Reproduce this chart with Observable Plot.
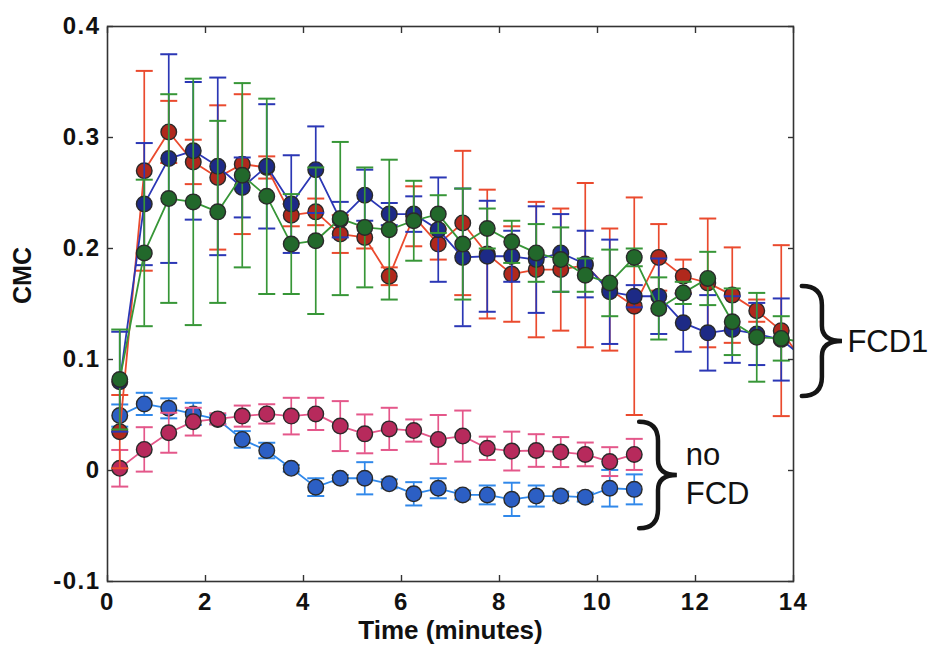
<!DOCTYPE html>
<html>
<head>
<meta charset="utf-8">
<script src="https://cdn.jsdelivr.net/npm/d3@7"></script>
<script src="https://cdn.jsdelivr.net/npm/@observablehq/plot@0.6"></script>
<style>
  html, body { margin: 0; padding: 0; background: #fff; }
  #chart { width: 929px; height: 650px; }
  svg { font-family: "Liberation Sans", Arial, Helvetica, sans-serif; }
  .ticklab text { letter-spacing: 1.5px; }
</style>
</head>
<body>
<div id="chart"></div>
<script>
// ---- Data ----
const xTicks = [0, 2, 4, 6, 8, 10, 12, 14];
const yTicks = [-0.1, 0, 0.1, 0.2, 0.3, 0.4];
const yTickLabels = ["-0.1", "0", "0.1", "0.2", "0.3", "0.4"];

// FCD1 time points (minutes); last one lies just past the axis and is clipped
const fcdTime = [0.25, 0.75, 1.25, 1.75, 2.25, 2.75, 3.25, 3.75, 4.25, 4.75, 5.25, 5.75, 6.25, 6.75,
  7.25, 7.75, 8.25, 8.75, 9.25, 9.75, 10.25, 10.75, 11.25, 11.75, 12.25, 12.75, 13.25, 13.75, 14.25];

const fcdRed = [0.035, 0.270, 0.305, 0.278, 0.264, 0.276, 0.273, 0.230, 0.233, 0.213, 0.210, 0.175, 0.229, 0.204,
  0.223, 0.195, 0.177, 0.181, 0.181, 0.185, 0.163, 0.148, 0.192, 0.175, 0.169, 0.158, 0.144, 0.126, 0.094];
const fcdRedErr = [0.033, 0.090, 0.028, 0.020, 0.065, 0.063, 0.010, 0.010, 0.012, 0.017, 0.010, 0.008, 0.027, 0.014,
  0.065, 0.058, 0.043, 0.061, 0.055, 0.074, 0.055, 0.098, 0.030, 0.015, 0.058, 0.043, 0.010, 0.077];

const fcdBlue = [0.080, 0.240, 0.281, 0.288, 0.274, 0.255, 0.274, 0.240, 0.271, 0.226, 0.248, 0.231, 0.231, 0.217,
  0.192, 0.193, 0.193, 0.190, 0.196, 0.186, 0.161, 0.157, 0.157, 0.133, 0.124, 0.127, 0.123, 0.118, 0.100];
const fcdBlueErr = [0.045, 0.055, 0.094, 0.062, 0.080, 0.027, 0.056, 0.044, 0.039, 0.016, 0.023, 0.010, 0.016, 0.047,
  0.062, 0.050, 0.023, 0.048, 0.035, 0.030, 0.047, 0.010, 0.034, 0.026, 0.034, 0.030, 0.028, 0.037];

const fcdGreen = [0.082, 0.196, 0.245, 0.242, 0.233, 0.266, 0.247, 0.204, 0.207, 0.227, 0.219, 0.217, 0.225, 0.231,
  0.204, 0.218, 0.206, 0.196, 0.190, 0.176, 0.169, 0.192, 0.146, 0.160, 0.173, 0.134, 0.120, 0.119, 0.115];
const fcdGreenErr = [0.045, 0.066, 0.094, 0.111, 0.082, 0.083, 0.088, 0.045, 0.066, 0.069, 0.054, 0.063, 0.036, 0.017,
  0.050, 0.018, 0.019, 0.026, 0.029, 0.015, 0.030, 0.008, 0.028, 0.010, 0.024, 0.030, 0.040, 0.020];

// no-FCD time points
const noFcdTime = [0.25, 0.75, 1.25, 1.75, 2.25, 2.75, 3.25, 3.75, 4.25, 4.75, 5.25,
  5.75, 6.25, 6.75, 7.25, 7.75, 8.25, 8.75, 9.25, 9.75, 10.25, 10.75];

const noFcdBlue = [0.0495, 0.060, 0.056, 0.051, 0.046, 0.028, 0.018, 0.002, -0.015, -0.007, -0.007,
  -0.012, -0.021, -0.016, -0.022, -0.022, -0.026, -0.023, -0.023, -0.024, -0.016, -0.017];
const noFcdBlueErr = [0.010, 0.010, 0.009, 0.010, 0.004, 0.0075, 0.007, 0.003, 0.008, 0.003, 0.0145,
  0.004, 0.0105, 0.009, 0.004, 0.0085, 0.015, 0.0095, 0.004, 0.004, 0.0165, 0.0135];

const noFcdPink = [0.002, 0.019, 0.034, 0.044, 0.0465, 0.049, 0.051, 0.049, 0.051, 0.040, 0.033,
  0.0375, 0.036, 0.028, 0.031, 0.020, 0.0175, 0.018, 0.0166, 0.0145, 0.008, 0.0145];
const noFcdPinkErr = [0.0165, 0.020, 0.018, 0.0125, 0.005, 0.0095, 0.0087, 0.0165, 0.0145, 0.0225, 0.0175,
  0.019, 0.010, 0.022, 0.023, 0.0105, 0.0175, 0.0147, 0.0135, 0.0107, 0.013, 0.014];

// annotations (data coordinates)
const labelTexts = ["FCD1", "no", "FCD"];
const labelX = [15.1, 11.8, 11.8];
const labelY = [0.1156, 0.0135, -0.021];
const braces = [
  {x0: 14.18, x1: 15.0, top: 0.1658, bottom: 0.0667},
  {x0: 10.86, x1: 11.63, top: 0.0435, bottom: -0.0525}
];

// ---- Series styling ----
const series = [
  {time: noFcdTime, values: noFcdBlue, errors: noFcdBlueErr, line: "#3088ea", fill: "#2c5fc4"},
  {time: noFcdTime, values: noFcdPink, errors: noFcdPinkErr, line: "#e4578a", fill: "#b72a5c"},
  {time: fcdTime, values: fcdRed, errors: fcdRedErr, line: "#ea4a2e", fill: "#b0281c"},
  {time: fcdTime, values: fcdBlue, errors: fcdBlueErr, line: "#2b37b5", fill: "#1d2a86"},
  {time: fcdTime, values: fcdGreen, errors: fcdGreenErr, line: "#379637", fill: "#22682b"}
];

const capSymbol = {
  draw(context, size) {
    const r = Math.sqrt(size / Math.PI);
    context.moveTo(-r, 0);
    context.lineTo(r, 0);
  }
};

const marks = [];
for (const s of series) {
  const rows = s.time.map((t, i) => ({t, v: s.values[i], e: s.errors[i]}));
  const pts = rows.filter(d => d.e !== undefined);
  marks.push(
    Plot.ruleX(pts, {x: "t", y1: d => d.v - d.e, y2: d => d.v + d.e, stroke: s.line, strokeWidth: 1.7}),
    Plot.dot(pts, {x: "t", y: d => d.v + d.e, symbol: capSymbol, r: 8.5, fill: "none", stroke: s.line, strokeWidth: 2}),
    Plot.dot(pts, {x: "t", y: d => d.v - d.e, symbol: capSymbol, r: 8.5, fill: "none", stroke: s.line, strokeWidth: 2}),
    Plot.line(rows, {x: "t", y: "v", stroke: s.line, strokeWidth: 1.8, clip: true}),
    Plot.dot(pts, {x: "t", y: "v", r: 7.8, fill: s.fill, stroke: "#2a2a2a", strokeWidth: 1.4})
  );
}

const yLabelOf = new Map(yTicks.map((v, i) => [v, yTickLabels[i]]));

const plot = Plot.plot({
  width: 929,
  height: 650,
  marginLeft: 107,
  marginRight: 136,
  marginTop: 26,
  marginBottom: 69,
  style: {fontFamily: "'Liberation Sans', Arial, Helvetica, sans-serif", background: "#fff", color: "#111"},
  x: {domain: [0, 14]},
  y: {domain: [-0.1, 0.4]},
  marks: [
    ...marks,
    Plot.frame({stroke: "#333", strokeWidth: 1.6}),
    // inward tick marks on all four sides
    Plot.axisY(yTicks, {anchor: "left", tickSize: -6, fill: "none", label: null, stroke: "#333", strokeWidth: 1.4}),
    Plot.axisY(yTicks, {anchor: "right", tickSize: -6, fill: "none", label: null, stroke: "#333", strokeWidth: 1.4}),
    Plot.axisX(xTicks, {anchor: "bottom", tickSize: -6, fill: "none", label: null, stroke: "#333", strokeWidth: 1.4}),
    Plot.axisX(xTicks, {anchor: "top", tickSize: -6, fill: "none", label: null, stroke: "#333", strokeWidth: 1.4}),
    // tick labels
    Plot.axisY(yTicks, {anchor: "left", tickSize: 0, tickPadding: 7, stroke: "none", label: null, className: "ticklab",
      tickFormat: d => yLabelOf.get(d), fontSize: 24, fontWeight: "bold", fill: "#111"}),
    Plot.axisX(xTicks, {anchor: "bottom", tickSize: 0, tickPadding: 11, stroke: "none", label: null, className: "ticklab",
      tickFormat: d => String(d), fontSize: 24, fontWeight: "bold", fill: "#111"}),
    // axis titles
    Plot.text(["Time (minutes)"], {frameAnchor: "bottom", dy: 57, fontSize: 26, fontWeight: "bold", fill: "#111"}),
    Plot.text(["CMC"], {frameAnchor: "left", dx: -85, rotate: -90, fontSize: 25, fontWeight: "bold", fill: "#111"}),
    // group annotations
    Plot.text(labelTexts, {x: (d, i) => labelX[i], y: (d, i) => labelY[i], text: d => d,
      textAnchor: "start", fontSize: 31, fill: "#111", clip: false})
  ]
});

document.getElementById("chart").appendChild(plot);

// curly braces drawn through the plot's own scales
const sx = plot.scale("x"), sy = plot.scale("y");
const svg = d3.select(plot.tagName.toLowerCase() === "svg" ? plot : plot.querySelector("svg"));
for (const b of braces) {
  const x0 = sx.apply(b.x0), x1 = sx.apply(b.x1);
  const ya = sy.apply(b.top), yb = sy.apply(b.bottom);
  const ym = (ya + yb) / 2, xm = (x0 + x1) / 2, q = 19;
  const p = d3.path();
  p.moveTo(x0, ya);
  p.quadraticCurveTo(xm, ya, xm, ya + q);
  p.lineTo(xm, ym - q * 0.8);
  p.quadraticCurveTo(xm, ym, x1, ym);
  p.quadraticCurveTo(xm, ym, xm, ym + q * 0.8);
  p.lineTo(xm, yb - q);
  p.quadraticCurveTo(xm, yb, x0, yb);
  svg.append("path").attr("d", p.toString()).attr("fill", "none")
    .attr("stroke", "#151515").attr("stroke-width", 4.5).attr("stroke-linecap", "round");
}
</script>
</body>
</html>
